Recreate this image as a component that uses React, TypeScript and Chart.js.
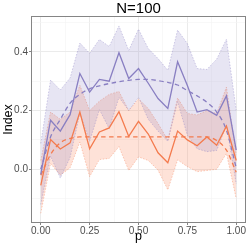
import React, { useEffect, useRef } from "react";
import { Chart, registerables } from "chart.js";

Chart.register(...registerables);

const P = [0, 0.05, 0.1, 0.15, 0.2, 0.25, 0.3, 0.35, 0.4, 0.45, 0.5, 0.55, 0.6, 0.65, 0.7, 0.75, 0.8, 0.85, 0.9, 0.95, 1.0];

const purpleMean = [-0.017, 0.167, 0.13, 0.186, 0.326, 0.263, 0.306, 0.3, 0.397, 0.309, 0.343, 0.293, 0.241, 0.207, 0.366, 0.285, 0.195, 0.203, 0.184, 0.25, 0.065];
const purpleUpper = [0.088, 0.304, 0.27, 0.311, 0.43, 0.395, 0.442, 0.418, 0.488, 0.405, 0.477, 0.411, 0.377, 0.337, 0.474, 0.428, 0.343, 0.34, 0.375, 0.443, 0.2];
const purpleLower = [-0.12, 0.045, -0.03, 0.04, 0.19, 0.095, 0.203, 0.139, 0.245, 0.2, 0.245, 0.17, 0.13, 0.095, 0.23, 0.116, 0.07, 0.06, 0.064, 0.15, -0.05];
const purpleFit = [0.0, 0.11, 0.17, 0.225, 0.255, 0.274, 0.284, 0.292, 0.298, 0.303, 0.306, 0.306, 0.302, 0.296, 0.287, 0.268, 0.25, 0.228, 0.195, 0.133, 0.005];

const orangeMean = [-0.055, 0.101, 0.069, 0.09, 0.195, 0.07, 0.127, 0.141, 0.196, 0.112, 0.163, 0.12, 0.056, 0.022, 0.13, 0.1, 0.08, 0.11, 0.082, 0.147, 0.03];
const orangeUpper = [0.03, 0.195, 0.17, 0.195, 0.286, 0.2, 0.232, 0.255, 0.265, 0.2, 0.24, 0.207, 0.156, 0.1, 0.243, 0.19, 0.185, 0.2, 0.19, 0.28, 0.05];
const orangeLower = [-0.15, 0.02, -0.02, 0.005, 0.093, -0.025, 0.033, 0.037, 0.077, -0.004, 0.042, 0.03, -0.003, -0.07, 0.032, 0.009, -0.008, -0.004, 0.0, 0.054, -0.1];
const orangeFit = [-0.02, 0.05, 0.09, 0.105, 0.11, 0.11, 0.11, 0.11, 0.11, 0.11, 0.11, 0.11, 0.11, 0.11, 0.11, 0.11, 0.11, 0.11, 0.098, 0.065, -0.01];

const xMajor = [0, 0.25, 0.5, 0.75, 1.0];
const xMinor = [0.125, 0.375, 0.625, 0.875];
const yMajor = [0, 0.2, 0.4];
const yMinor = [-0.1, 0.1, 0.3, 0.5];

const FONT = "'Liberation Sans', Arial, sans-serif";
const PURPLE = "rgb(137,127,194)";
const PURPLE_EDGE = "rgba(137,127,194,0.55)";
const PURPLE_FILL = "rgba(137,127,194,0.2)";
const ORANGE = "rgb(244,123,78)";
const ORANGE_EDGE = "rgba(244,123,78,0.55)";
const ORANGE_FILL = "rgba(250,140,100,0.25)";
const BORDER = "#858585";

const pts = (ys: number[]) => ys.map((y, i) => ({ x: P[i], y }));

const borderPlugin = {
  id: "panelBorder",
  afterDraw(chart: any) {
    const { ctx, chartArea } = chart;
    ctx.save();
    ctx.strokeStyle = BORDER;
    ctx.lineWidth = 1;
    ctx.strokeRect(chartArea.left + 0.5, chartArea.top + 0.5, chartArea.right - chartArea.left - 1, chartArea.bottom - chartArea.top - 1);
    ctx.restore();
  },
};

export default function App() {
  const ref = useRef<HTMLCanvasElement>(null);
  useEffect(() => {
    const xTicks = [...xMajor, ...xMinor].sort((a, b) => a - b);
    const yTicks = [...yMajor, ...yMinor].sort((a, b) => a - b);
    const isMajor = (arr: number[], v: number) => arr.some((m) => Math.abs(m - v) < 1e-9);
    const band = (data: number[], color: string, fill: any, bg: string) => ({
      data: pts(data),
      borderColor: color,
      borderWidth: 0.7,
      borderDash: [1.5, 1.5],
      backgroundColor: bg,
      fill,
      pointRadius: 0,
      tension: 0,
    });
    const chart = new Chart(ref.current!, {
      type: "line",
      data: {
        datasets: [
          { data: pts(purpleMean), borderColor: PURPLE, borderWidth: 1.3, pointRadius: 0, fill: false, tension: 0 },
          { data: pts(orangeMean), borderColor: ORANGE, borderWidth: 1.3, pointRadius: 0, fill: false, tension: 0 },
          { data: pts(purpleFit), borderColor: PURPLE, borderWidth: 1.3, borderDash: [4.5, 3.5], pointRadius: 0, fill: false, tension: 0.4, cubicInterpolationMode: "monotone" },
          { data: pts(orangeFit), borderColor: ORANGE, borderWidth: 1.3, borderDash: [4.5, 3.5], pointRadius: 0, fill: false, tension: 0.4, cubicInterpolationMode: "monotone" },
          band(purpleUpper, PURPLE_EDGE, "+1", PURPLE_FILL),
          band(purpleLower, PURPLE_EDGE, false, PURPLE_FILL),
          band(orangeUpper, ORANGE_EDGE, "+1", ORANGE_FILL),
          band(orangeLower, ORANGE_EDGE, false, ORANGE_FILL),
        ] as any,
      },
      options: {
        animation: false,
        responsive: false,
        events: [],
        layout: { padding: { top: 1, left: 0, right: 3, bottom: 0 } },
        plugins: {
          legend: { display: false },
          tooltip: { enabled: false },
          title: {
            display: true,
            text: "N=100",
            fullSize: false,
            color: "#000",
            font: { family: FONT, size: 15, weight: "normal", lineHeight: 1.0 },
            padding: { top: 0, bottom: 0 },
          },
        },
        scales: {
          x: {
            type: "linear",
            min: -0.05,
            max: 1.05,
            afterBuildTicks: (s: any) => { s.ticks = xTicks.map((v) => ({ value: v })); },
            afterFit: (s: any) => { s.height = 26; },
            ticks: {
              padding: 0,
              color: "#4d4d4d",
              font: { family: FONT, size: 10 },
              maxRotation: 0,
              autoSkip: false,
              callback: (v: any) => (isMajor(xMajor, Number(v)) ? Number(v).toFixed(2) : ""),
            },
            grid: {
              drawTicks: true,
              tickLength: 2,
              tickColor: (c: any) => (c.tick && isMajor(xMajor, c.tick.value) ? BORDER : "rgba(0,0,0,0)"),
              color: (c: any) => (c.tick && isMajor(xMajor, c.tick.value) ? "#ebebeb" : "#f4f4f4"),
              lineWidth: (c: any) => (c.tick && isMajor(xMajor, c.tick.value) ? 1 : 0.6),
            },
            border: { display: false },
            title: { display: true, text: "p", color: "#000", font: { family: FONT, size: 12.5 }, padding: { top: 0, bottom: 5 } },
          },
          y: {
            type: "linear",
            min: -0.183,
            max: 0.522,
            afterBuildTicks: (s: any) => { s.ticks = yTicks.map((v) => ({ value: v })); },
            afterFit: (s: any) => { s.width = 31; },
            ticks: {
              padding: 1,
              color: "#4d4d4d",
              font: { family: FONT, size: 10 },
              autoSkip: false,
              callback: (v: any) => (isMajor(yMajor, Number(v)) ? Number(v).toFixed(1) : ""),
            },
            grid: {
              drawTicks: true,
              tickLength: 2,
              tickColor: (c: any) => (c.tick && isMajor(yMajor, c.tick.value) ? BORDER : "rgba(0,0,0,0)"),
              color: (c: any) => (c.tick && isMajor(yMajor, c.tick.value) ? "#ebebeb" : "#f4f4f4"),
              lineWidth: (c: any) => (c.tick && isMajor(yMajor, c.tick.value) ? 1 : 0.6),
            },
            border: { display: false },
            title: { display: true, text: "Index", color: "#000", font: { family: FONT, size: 12.5 }, padding: { top: 1, bottom: 0 } },
          },
        },
      } as any,
      plugins: [borderPlugin],
    });
    return () => chart.destroy();
  }, []);
  return (
    <div style={{ position: "absolute", left: 0, top: 0, width: 249, height: 249, background: "#fff" }}>
      <canvas ref={ref} width={249} height={249} style={{ width: 249, height: 249, display: "block" }} />
    </div>
  );
}
